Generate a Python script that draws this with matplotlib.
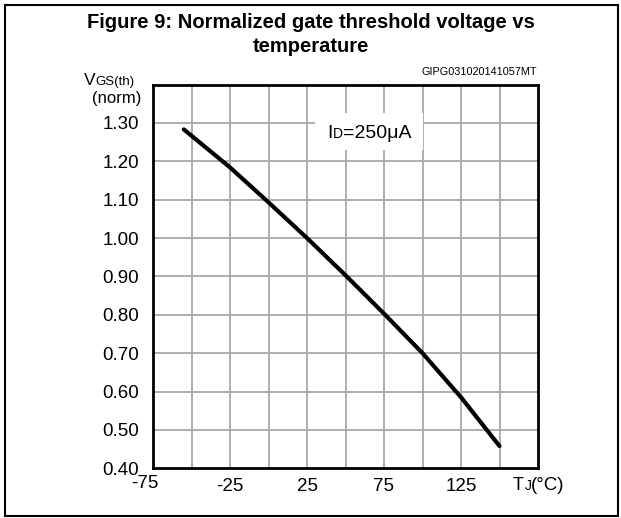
import matplotlib
matplotlib.use("Agg")
import matplotlib.pyplot as plt
from matplotlib.patches import Rectangle
from matplotlib.transforms import offset_copy

plt.rcParams['font.family'] = ['Liberation Sans', 'DejaVu Sans']

# Data
temps = [-55, -25, 0, 25, 50, 75, 100, 125, 150]
vgs_norm = [1.283, 1.184, 1.093, 1.00, 0.903, 0.803, 0.700, 0.585, 0.458]
x_ticks = [-75, -25, 25, 75, 125]
y_ticks = [0.40, 0.50, 0.60, 0.70, 0.80, 0.90, 1.00, 1.10, 1.20, 1.30]
y_tick_labels = ["0.40", "0.50", "0.60", "0.70", "0.80", "0.90", "1.00", "1.10", "1.20", "1.30"]

W, H = 621, 518
fig = plt.figure(figsize=(W / 100, H / 100), dpi=100)

def fx(px):
    return px / W

def fy(py):
    return 1 - py / H

# outer frame
fig.add_artist(Rectangle((fx(5), fy(516)), fx(613), 511 / H, transform=fig.transFigure,
                         fill=False, edgecolor='black', linewidth=1.5))

ax = fig.add_axes([fx(153), fy(468.3), fx(538 - 153), (468.3 - 84.5) / H])
ax.set_xlim(-75, 175)
ax.set_ylim(0.40, 1.40)

# grid
for gx in range(-50, 175, 25):
    ax.axvline(gx, color='#a8a8a8', linewidth=1.3, zorder=1)
for gy in [0.5, 0.6, 0.7, 0.8, 0.9, 1.0, 1.1, 1.2, 1.3]:
    ax.axhline(gy, color='#a8a8a8', linewidth=1.3, zorder=1)

ax.plot(temps, vgs_norm, color='black', linewidth=3.0, solid_capstyle='round', zorder=3)

for s in ax.spines.values():
    s.set_linewidth(2.0)

ax.set_xticks(x_ticks)
ax.set_xticklabels([str(t) for t in x_ticks])
ax.set_yticks(y_ticks)
ax.set_yticklabels(y_tick_labels)
ax.tick_params(axis='y', length=0, labelsize=13.5, pad=10)
ax.tick_params(axis='x', length=0, labelsize=13.5, pad=7)
xl = ax.get_xticklabels()
xl[0].set_transform(offset_copy(xl[0].get_transform(), fig=fig, x=-8, y=3, units='dots'))

# legend box with text
fig.add_artist(Rectangle((fx(315), fy(150)), fx(423 - 315), (150 - 113) / H,
                         transform=fig.transFigure, facecolor='white', edgecolor='none', zorder=2))
fig.text(fx(327), fy(138), "I", fontsize=14, ha='left', va='baseline', zorder=4)
fig.text(fx(333), fy(138), "D", fontsize=10, ha='left', va='baseline', zorder=4)
fig.text(fx(343), fy(138), "=250\u03bcA", fontsize=14, ha='left', va='baseline', zorder=4)

# title
fig.text(0.5, fy(22), "Figure 9: Normalized gate threshold voltage vs", fontsize=14.5,
         fontweight='bold', ha='center', va='center')
fig.text(0.5, fy(46), "temperature", fontsize=14.5, fontweight='bold', ha='center', va='center')

fig.text(fx(537), fy(75), "GIPG031020141057MT", fontsize=7.8, ha='right', va='baseline')

# y label
fig.text(fx(84), fy(85), "V", fontsize=12.5, ha='left', va='baseline')
fig.text(fx(95.5), fy(85), "GS(th)", fontsize=9.5, ha='left', va='baseline')
fig.text(fx(141), fy(99), "(norm)", fontsize=12, ha='right', va='center')

# x label
fig.text(fx(513), fy(490), "T", fontsize=13, ha='left', va='baseline')
fig.text(fx(524.5), fy(490), "J", fontsize=10, ha='left', va='baseline')
fig.text(fx(531), fy(490), "(\u00b0C)", fontsize=13.5, ha='left', va='baseline')

fig.savefig("out.png", dpi=100)
